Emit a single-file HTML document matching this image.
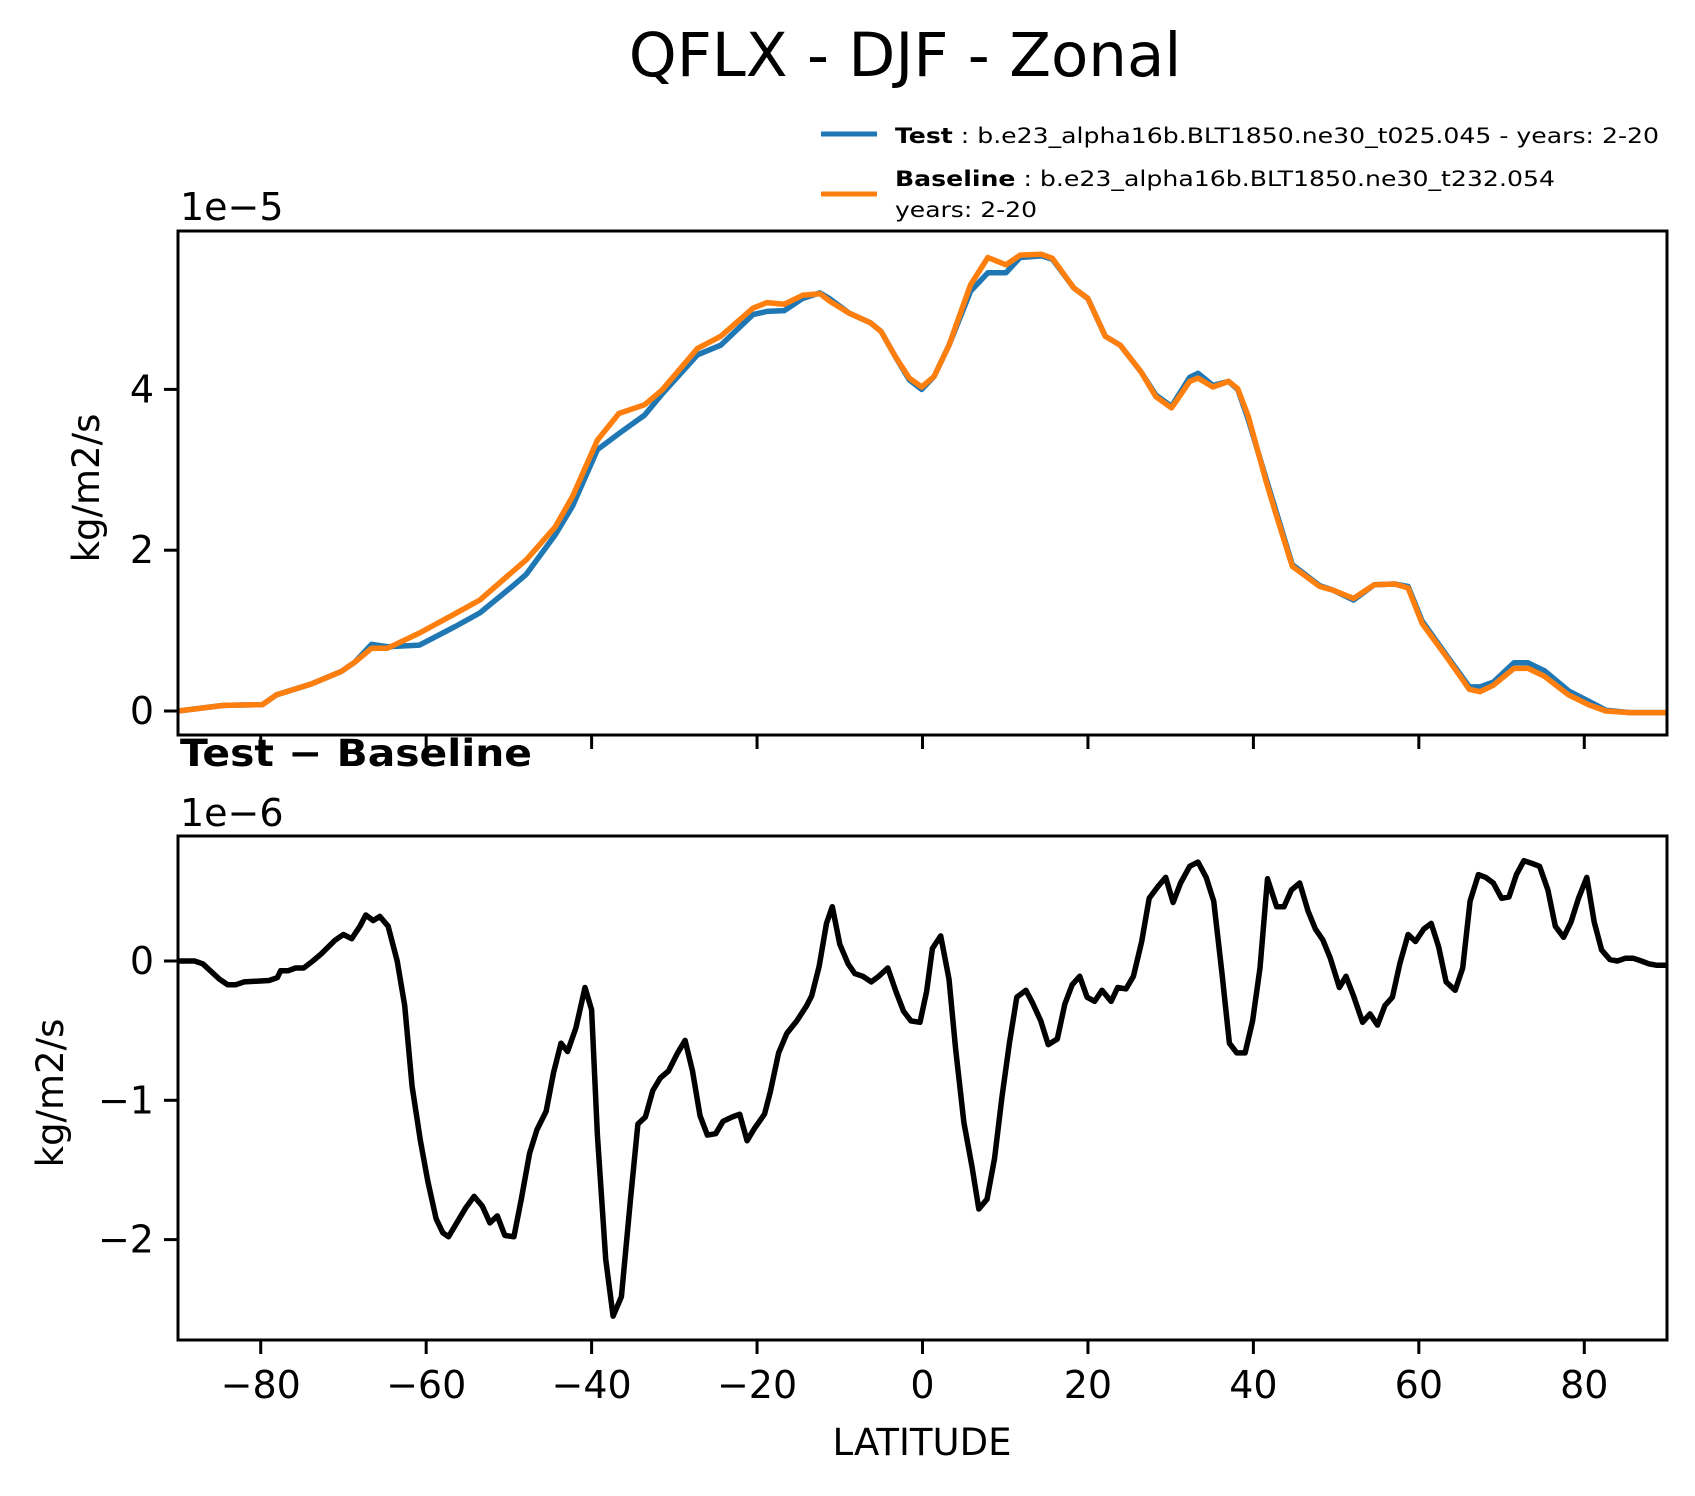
<!DOCTYPE html>
<html><head><meta charset="utf-8"><title>QFLX - DJF - Zonal</title>
<style>
html,body{margin:0;padding:0;background:#fff;}
svg{display:block;font-family:"DejaVu Sans","Liberation Sans",sans-serif;}
</style></head>
<body>
<svg id="fig" width="1695" height="1496" viewBox="0 0 1695 1496" xmlns="http://www.w3.org/2000/svg">
<defs>
<clipPath id="clipTop"><rect x="178" y="231" width="1489" height="504"/></clipPath>
<clipPath id="clipBot"><rect x="178" y="836" width="1489" height="505"/></clipPath>
</defs>
<rect width="1695" height="1496" fill="#fff"/>
<text x="905" y="76" font-size="61" text-anchor="middle">QFLX - DJF - Zonal</text>

<g>
<line x1="821" y1="134" x2="877" y2="134" stroke="#1f77b4" stroke-width="5"/>
<text x="895" y="143" font-size="21" textLength="764" lengthAdjust="spacingAndGlyphs"><tspan font-weight="bold">Test</tspan> : b.e23_alpha16b.BLT1850.ne30_t025.045 - years: 2-20</text>
<line x1="821" y1="194" x2="877" y2="194" stroke="#ff7f0e" stroke-width="5"/>
<text x="895" y="186" font-size="21" textLength="660" lengthAdjust="spacingAndGlyphs"><tspan font-weight="bold">Baseline</tspan> : b.e23_alpha16b.BLT1850.ne30_t232.054</text>
<text x="895" y="217" font-size="21" textLength="142" lengthAdjust="spacingAndGlyphs">years: 2-20</text>
</g>

<text x="180" y="220" font-size="38">1e−5</text>
<text x="180" y="766" font-size="37" font-weight="bold" textLength="352" lengthAdjust="spacingAndGlyphs">Test − Baseline</text>
<text x="180" y="826" font-size="38">1e−6</text>

<text transform="translate(99,488) rotate(-90)" font-size="37" text-anchor="middle">kg/m2/s</text>
<text transform="translate(63,1093) rotate(-90)" font-size="37" text-anchor="middle">kg/m2/s</text>
<text x="922" y="1455" font-size="37" text-anchor="middle">LATITUDE</text>

<g id="topAx"></g>
<g id="botAx"></g>
</svg>
<script>
const latTop = [-90,-84.5,-79.8,-78.1,-73.8,-70.3,-68.6,-66.6,-64.7,-60.8,-56.5,-53.5,-49.6,-47.9,-44.4,-42.3,-39.3,-36.7,-33.6,-31.5,-27.2,-24.4,-20.5,-18.8,-16.7,-14.5,-12.4,-11.1,-8.9,-6.3,-5,-3.3,-1.6,-0.1,1.4,3.2,5.8,7.9,10.1,11.8,14.4,15.7,18.3,20,22.1,23.9,26.4,28.2,30.1,32.3,33.3,35.1,37,38.1,39.4,41.5,42.7,44.7,48.0,49.7,52.1,54.6,57.1,58.7,60.4,63.3,66.1,67.4,69.0,71.5,73.2,75.2,78.1,80.6,82.6,85.5,90];
const baselineVals = [0,0.07,0.08,0.2,0.34,0.49,0.61,0.78,0.78,0.97,1.21,1.38,1.73,1.88,2.29,2.67,3.37,3.70,3.81,3.99,4.51,4.66,5.01,5.08,5.06,5.17,5.19,5.09,4.95,4.83,4.72,4.41,4.14,4.03,4.16,4.55,5.30,5.64,5.55,5.67,5.68,5.63,5.26,5.13,4.66,4.55,4.22,3.91,3.77,4.10,4.14,4.03,4.10,4.01,3.66,2.87,2.46,1.80,1.55,1.50,1.40,1.57,1.58,1.53,1.09,0.68,0.27,0.24,0.32,0.53,0.53,0.43,0.20,0.075,0,-0.02,-0.02];
const testVals = [0,0.07,0.08,0.2,0.34,0.49,0.61,0.83,0.80,0.82,1.05,1.22,1.55,1.70,2.19,2.55,3.25,3.45,3.68,3.94,4.43,4.55,4.93,4.97,4.98,5.13,5.20,5.12,4.95,4.83,4.72,4.41,4.12,4.00,4.16,4.55,5.22,5.45,5.45,5.64,5.66,5.62,5.26,5.13,4.66,4.55,4.22,3.93,3.79,4.15,4.20,4.05,4.10,4.00,3.62,2.90,2.50,1.82,1.56,1.50,1.38,1.57,1.58,1.55,1.12,0.70,0.30,0.30,0.36,0.60,0.60,0.50,0.25,0.12,0.01,-0.02,-0.02];
const latDiff = [-90,-88,-87,-85,-84,-83,-82,-79,-78,-77.6,-76.7,-75.8,-74.8,-73.7,-72.7,-71,-70,-69,-68,-67.3,-66.4,-65.6,-64.6,-63.5,-62.6,-61.7,-60.7,-59.8,-58.8,-58,-57.3,-56.4,-55.2,-54.2,-53.2,-52.3,-51.4,-50.5,-49.4,-48.5,-47.5,-46.6,-45.5,-44.6,-43.7,-42.9,-41.9,-40.8,-40,-39.3,-38.3,-37.4,-36.4,-35.3,-34.4,-33.5,-32.6,-31.7,-30.7,-29.6,-28.7,-27.8,-26.9,-26,-25,-24.1,-23,-22.1,-21.2,-20.3,-19.1,-18.4,-17.4,-16.4,-15.2,-14,-13.4,-12.5,-11.6,-10.9,-10,-9,-8.2,-7.2,-6.2,-5.3,-4.2,-3.2,-2.3,-1.4,-0.3,0.5,1.2,2.2,3.2,4,5,6,6.8,7.8,8.7,9.6,10.5,11.4,12.5,13.3,14.3,15.2,16.3,17.2,18.1,19,19.9,20.8,21.7,22.8,23.6,24.6,25.5,26.5,27.4,28.4,29.4,30.3,31.2,32.3,33.3,34.3,35.2,36.2,37.1,38,39,39.9,40.8,41.7,42.8,43.7,44.6,45.6,46.6,47.5,48.4,49.3,50.4,51.2,52.1,53.2,54.1,55,55.9,56.8,57.7,58.7,59.6,60.6,61.5,62.4,63.3,64.4,65.3,66.2,67.2,68.1,69,70,70.9,71.8,72.7,73.7,74.6,75.6,76.5,77.5,78.4,79.3,80.3,81.2,82.1,83.1,84,85,85.9,86.9,87.8,88.7,90];
const diffVals = [0,0,-0.02,-0.13,-0.17,-0.17,-0.15,-0.14,-0.12,-0.07,-0.07,-0.05,-0.05,0,0.05,0.15,0.19,0.16,0.25,0.33,0.29,0.32,0.25,0,-0.32,-0.9,-1.29,-1.58,-1.85,-1.95,-1.98,-1.89,-1.77,-1.69,-1.76,-1.88,-1.83,-1.97,-1.98,-1.71,-1.38,-1.21,-1.08,-0.8,-0.59,-0.65,-0.48,-0.19,-0.35,-1.25,-2.14,-2.55,-2.41,-1.71,-1.17,-1.12,-0.93,-0.84,-0.79,-0.66,-0.57,-0.79,-1.11,-1.25,-1.24,-1.15,-1.12,-1.1,-1.29,-1.2,-1.1,-0.94,-0.66,-0.52,-0.43,-0.32,-0.25,-0.04,0.27,0.39,0.12,-0.02,-0.09,-0.11,-0.15,-0.11,-0.05,-0.22,-0.36,-0.43,-0.44,-0.22,0.09,0.18,-0.13,-0.63,-1.16,-1.48,-1.78,-1.71,-1.42,-0.98,-0.59,-0.26,-0.21,-0.3,-0.43,-0.6,-0.56,-0.31,-0.17,-0.11,-0.26,-0.29,-0.21,-0.29,-0.19,-0.2,-0.11,0.14,0.45,0.53,0.6,0.42,0.56,0.68,0.71,0.6,0.43,-0.09,-0.59,-0.66,-0.66,-0.43,-0.05,0.59,0.39,0.39,0.51,0.56,0.36,0.23,0.15,0.02,-0.19,-0.11,-0.25,-0.44,-0.38,-0.46,-0.32,-0.26,-0.02,0.19,0.14,0.23,0.27,0.1,-0.15,-0.21,-0.05,0.43,0.62,0.6,0.56,0.45,0.46,0.62,0.72,0.7,0.68,0.51,0.25,0.17,0.28,0.45,0.6,0.28,0.08,0.01,0,0.02,0.02,0,-0.02,-0.03,-0.03];
const xTicks = [-80,-60,-40,-20,0,20,40,60,80];
const topYTicks = [0,2,4];
const botYTicks = [0,-1,-2];

const NS = "http://www.w3.org/2000/svg";
const X0 = 178, X1 = 1667, LATMIN = -90, LATMAX = 90;
function xScale(lat){ return X0 + (lat - LATMIN) / (LATMAX - LATMIN) * (X1 - X0); }
const TOP = {y0:231, y1:735, zeroY:711, unit:80.4};
const BOT = {y0:836, y1:1340, zeroY:961, unit:139.3};
function yTop(v){ return TOP.zeroY - v * TOP.unit; }
function yBot(v){ return BOT.zeroY - v * BOT.unit; }
function mk(tag, attrs, parent){
  const el = document.createElementNS(NS, tag);
  for (const k in attrs) el.setAttribute(k, attrs[k]);
  parent.appendChild(el);
  return el;
}
function pathD(xs, ys, yf){
  return xs.map((x,i)=>(i?'L':'M')+xScale(x).toFixed(1)+','+yf(ys[i]).toFixed(1)).join(' ');
}
function frame(g, box, yTicks, yf, showXLabels){
  const rect = mk('rect', {x:X0, y:box.y0, width:X1-X0, height:box.y1-box.y0, fill:'none', stroke:'#000', 'stroke-width':3}, g);
  
  
  xTicks.forEach(t=>{
    const x = xScale(t);
    const tk = mk('line', {x1:x, x2:x, y1:box.y1, y2:box.y1+14, stroke:'#000', 'stroke-width':3}, g);
    
    
    if (showXLabels){
      const lb = mk('text', {x:x, y:1398, 'font-size':38, 'text-anchor':'middle'}, g);
      lb.textContent = t < 0 ? '−' + Math.abs(t) : String(t);
      
      
    }
  });
  yTicks.forEach(t=>{
    const y = yf(t);
    const tk = mk('line', {x1:X0-14, x2:X0, y1:y, y2:y, stroke:'#000', 'stroke-width':3}, g);
    
    
    const lb = mk('text', {x:X0-24, y:y+13, 'font-size':38, 'text-anchor':'end'}, g);
    lb.textContent = t < 0 ? '−' + Math.abs(t) : String(t);
    
    
  });
}
const topAx = document.getElementById('topAx');
const botAx = document.getElementById('botAx');

const gTop = mk('g', {'clip-path':'url(#clipTop)'}, topAx);


const testLine = mk('path', {d:pathD(latTop, testVals, yTop), fill:'none', stroke:'#1f77b4', 'stroke-width':5.5, 'stroke-linejoin':'round'}, gTop);


const baseLine = mk('path', {d:pathD(latTop, baselineVals, yTop), fill:'none', stroke:'#ff7f0e', 'stroke-width':5.5, 'stroke-linejoin':'round'}, gTop);


frame(topAx, TOP, topYTicks, yTop, false);

const gBot = mk('g', {'clip-path':'url(#clipBot)'}, botAx);


const diffLine = mk('path', {d:pathD(latDiff, diffVals, yBot), fill:'none', stroke:'#000', 'stroke-width':5.5, 'stroke-linejoin':'round'}, gBot);


frame(botAx, BOT, botYTicks, yBot, true);
</script>
</body></html>
